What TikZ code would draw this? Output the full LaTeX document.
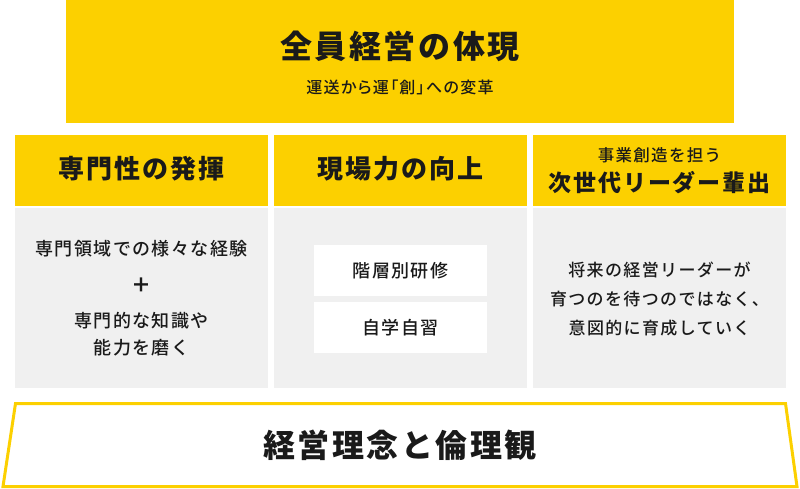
\documentclass[tikz,border=0pt]{standalone}
\usepackage{fontspec}
\setmainfont{Noto Sans CJK JP}[LetterSpace=8]
\newfontfamily\jpmed{Noto Sans CJK JP Medium}[LetterSpace=8]
\newfontfamily\jppalt{Noto Sans CJK JP Medium}[LetterSpace=8,RawFeature=+palt]
\definecolor{brand}{HTML}{FCD000}
\definecolor{panel}{HTML}{F0F0F0}
\definecolor{ink}{HTML}{1A1A1A}
\newcommand{\fsz}[1]{\fontsize{#1}{#1}\selectfont}
\begin{document}
\begin{tikzpicture}[x=1pt,y=-1pt,
        jptext/.style={inner sep=0pt,text=ink,align=center},
        headtext/.style={jptext,font=\bfseries\fsz{26}},
        bodytext/.style={jptext,font=\jpmed\fontsize{18}{28}\selectfont}]
        \useasboundingbox (0,0) rectangle (800,488);

        % top
        \fill[brand] (66,0) rectangle (734,123);
        \node[jptext,font=\bfseries\fsz{32}] (title) at (400,46) {全員経営の体現};
        \node[jptext,font=\jppalt\fsz{16}] (subtitle) at (400,87) {運送から運「創」への変革};

        % columns
        \foreach \x in {15,274,533} {
                \fill[brand] (\x,135) rectangle ++(253,71);
                \fill[panel] (\x,208) rectangle ++(253,180);
        }
        \node[headtext] (head1) at (141.5,169) {専門性の発揮};
        \node[headtext] (head2) at (400.5,169) {現場力の向上};
        \node[jptext,font=\jpmed\fsz{16.5}] (head3a) at (659.5,155) {事業創造を担う};
        \node[jptext,font=\bfseries\fsz{23}] (head3b) at (659.5,183) {次世代リーダー輩出};

        \node[bodytext] (body1a) at (141.5,249) {専門領域での様々な経験};
        \node[jptext,font=\bfseries\fsz{20}] (plus) at (141.5,285) {＋};
        \node[bodytext,font=\jpmed\fontsize{18}{27}\selectfont] (body1b) at (141.5,334) {専門的な知識や\\能力を磨く};

        \fill[white] (314,245) rectangle (487,296);
        \fill[white] (314,302) rectangle (487,353);
        \node[bodytext] (train1) at (400.5,270.5) {階層別研修};
        \node[bodytext] (train2) at (400.5,327.5) {自学自習};

        \node[bodytext,font=\jpmed\fontsize{17}{29}\selectfont] (body3) at (659.5,299) {将来の経営リーダーが\\育つのを待つのではなく、\\意図的に育成していく};

        % base
        \draw[brand, line width=3pt, line join=miter] (15.5,403.5) -- (785.5,403.5) -- (797,486.5) -- (3,486.5) -- cycle;
        \node[jptext,font=\bfseries\fsz{32}] (base) at (400,445) {経営理念と倫理観};
\end{tikzpicture}
\end{document}
